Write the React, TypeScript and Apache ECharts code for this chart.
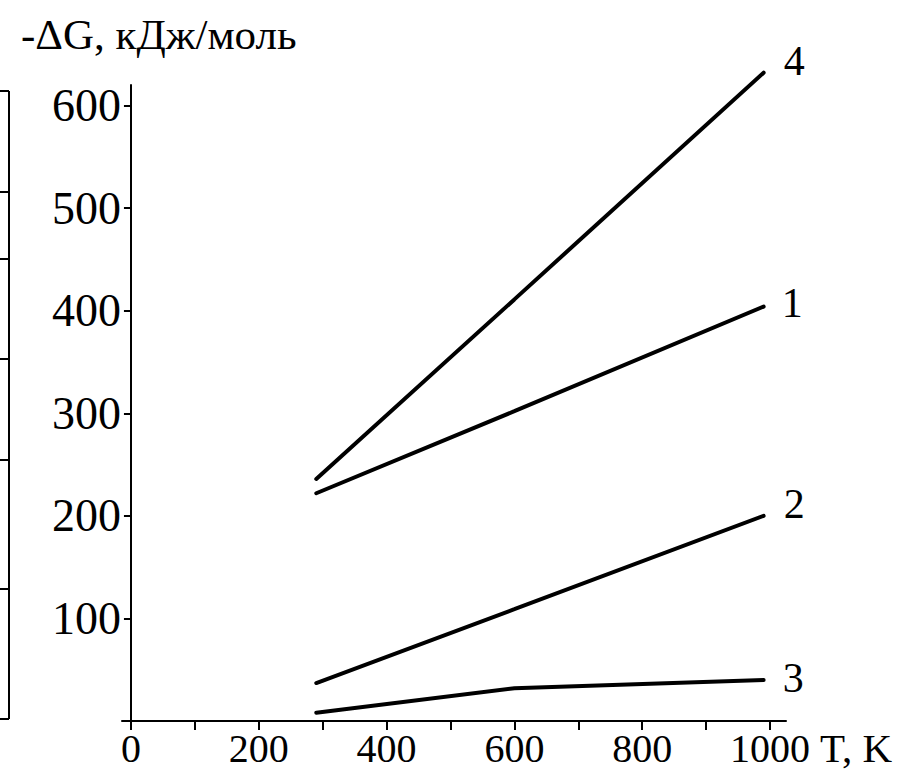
import React, { useEffect, useRef } from "react";
import * as echarts from "echarts";

const temps = [290, 600, 990];
const line1 = [222, 302, 404];
const line2 = [37, 109, 200];
const line3 = [8, 32, 40];
const line4 = [236, 411, 632];
const seriesNames = ["1", "2", "3", "4"];
const xTicks = [0, 100, 200, 300, 400, 500, 600, 700, 800, 900, 1000];
const xLabels = [0, 200, 400, 600, 800, 1000];
const yTicks = [0, 100, 200, 300, 400, 500, 600];
const yLabels = [100, 200, 300, 400, 500, 600];
const titleText = "-ΔG, кДж/моль";
const xName = "T, K";

const FONT = "'Liberation Serif', 'Times New Roman', serif";

export default function App() {
  const ref = useRef<HTMLDivElement>(null);
  useEffect(() => {
    if (!ref.current) return;
    const chart = echarts.init(ref.current, undefined, { renderer: "svg" });
    const all = [line1, line2, line3, line4];
    const offsets: [number, number][] = [
      [10, -4],
      [12, -12],
      [11, -2],
      [12, -12],
    ];
    const bracketTicks = [91, 192, 259, 359, 460, 589, 719];
    const graphics: any[] = [
      {
        type: "line",
        shape: { x1: 9, y1: 91, x2: 9, y2: 719 },
        style: { stroke: "#000", lineWidth: 2 },
      },
      ...bracketTicks.map((y) => ({
        type: "line",
        shape: { x1: 0, y1: y, x2: 9, y2: y },
        style: { stroke: "#000", lineWidth: 2 },
      })),
    ];
    chart.setOption({
      animation: false,
      backgroundColor: "#fff",
      title: {
        text: titleText,
        left: 16,
        top: 8,
        textStyle: {
          fontFamily: FONT,
          fontWeight: "normal",
          fontSize: 43,
          color: "#000",
        },
      },
      grid: { left: 122, right: 128, top: 85, bottom: 48 },
      xAxis: {
        type: "value",
        min: -14,
        max: 1025,
        splitLine: { show: false },
        axisLine: { lineStyle: { color: "#000", width: 2 } },
        axisTick: {
          customValues: xTicks,
          length: 9,
          lineStyle: { color: "#000", width: 2 },
        },
        axisLabel: {
          customValues: xLabels,
          formatter: (v: number) => String(v),
          fontFamily: FONT,
          fontSize: 40,
          color: "#000",
          margin: 7,
        },
        name: xName,
        nameLocation: "end",
        nameGap: 34,
        nameTextStyle: {
          fontFamily: FONT,
          fontSize: 41,
          color: "#000",
          verticalAlign: "top",
          padding: [6, 0, 0, 0],
        },
      },
      yAxis: {
        type: "value",
        min: 0,
        max: 620,
        splitLine: { show: false },
        axisLine: { onZero: true, lineStyle: { color: "#000", width: 2 } },
        axisTick: {
          customValues: yTicks,
          length: 7,
          lineStyle: { color: "#000", width: 2 },
        },
        axisLabel: {
          customValues: yLabels,
          formatter: (v: number) => String(v),
          fontFamily: FONT,
          fontSize: 46,
          color: "#000",
          margin: 1,
        },
      },
      graphic: graphics,
      series: all.map((vals, i) => ({
        type: "line",
        name: seriesNames[i],
        data: temps.map((t, j) => [t, vals[j]]),
        clip: false,
        showSymbol: false,
        symbol: "none",
        lineStyle: { color: "#000", width: 4, cap: "round" },
        itemStyle: { color: "#000" },
        endLabel: {
          show: true,
          formatter: seriesNames[i],
          fontFamily: FONT,
          fontSize: 42,
          color: "#000",
          offset: offsets[i],
        },
      })),
    });
    return () => chart.dispose();
  }, []);
  return (
    <div
      ref={ref}
      style={{ position: "fixed", left: 0, top: 0, width: 914, height: 769, background: "#fff" }}
    />
  );
}
